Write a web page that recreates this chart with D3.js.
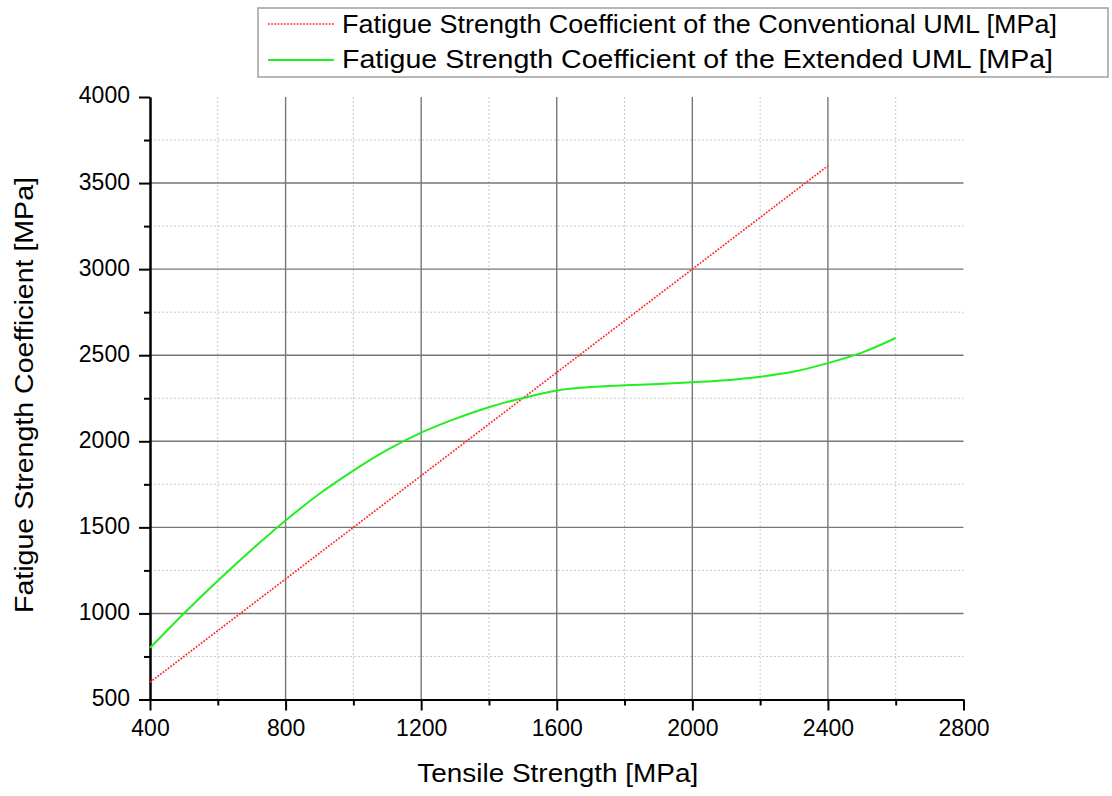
<!DOCTYPE html>
<html>
<head>
<meta charset="utf-8">
<script src="https://cdn.jsdelivr.net/npm/d3@7"></script>
<style>
  html, body { margin: 0; padding: 0; background: #fff; }
  svg { display: block; font-family: "Liberation Sans", Arial, sans-serif; }
</style>
</head>
<body>
<svg id="chart" width="1112" height="796"></svg>
<script>
// Tensile strength samples [MPa]
const tensileConventional = [400, 600, 800, 1000, 1200, 1400, 1600, 1800, 2000, 2200, 2400];
// Conventional UML: fatigue strength coefficient = 1.5 * UTS
const coefConventional = [600, 900, 1200, 1500, 1800, 2100, 2400, 2700, 3000, 3300, 3600];

const tensileExtended = [400, 500, 600, 700, 800, 900, 1000, 1100, 1200, 1300, 1400, 1500,
                         1600, 1700, 1800, 1900, 2000, 2100, 2200, 2300, 2400, 2500, 2600];
const coefExtended = [800, 1000, 1190, 1370, 1540, 1695, 1830, 1950, 2050, 2130, 2198, 2251,
                      2295, 2315, 2325, 2333, 2343, 2355, 2375, 2405, 2454, 2515, 2600];

const xMajorTicks = [400, 800, 1200, 1600, 2000, 2400, 2800];
const xMinorTicks = [600, 1000, 1400, 1800, 2200, 2600];
const yMajorTicks = [500, 1000, 1500, 2000, 2500, 3000, 3500, 4000];
const yMinorTicks = [750, 1250, 1750, 2250, 2750, 3250, 3750];

const seriesNames = [
  "Fatigue Strength Coefficient of the Conventional UML [MPa]",
  "Fatigue Strength Coefficient of the Extended UML [MPa]"
];
const xTitle = "Tensile Strength [MPa]";
const yTitle = "Fatigue Strength Coefficient [MPa]";

const svg = d3.select("#chart");
const plotL = 150, plotR = 963.5, plotT = 97, plotB = 699.5;

const x = d3.scaleLinear().domain([400, 2800]).range([plotL, plotR]);
const y = d3.scaleLinear().domain([500, 4000]).range([plotB, plotT]);
const fmt = d3.format("d");

// Grid: minor dotted, major solid
const grid = svg.append("g");
grid.selectAll(".vminor").data(xMinorTicks).join("line")
  .attr("x1", d => x(d)).attr("x2", d => x(d)).attr("y1", plotT).attr("y2", plotB)
  .attr("stroke", "#c8c8c8").attr("stroke-width", 1).attr("stroke-dasharray", "2,2");
grid.selectAll(".hminor").data(yMinorTicks).join("line")
  .attr("x1", plotL).attr("x2", plotR).attr("y1", d => y(d)).attr("y2", d => y(d))
  .attr("stroke", "#c8c8c8").attr("stroke-width", 1).attr("stroke-dasharray", "2,2");
grid.selectAll(".vmajor").data(xMajorTicks.slice(1, -1)).join("line")
  .attr("x1", d => x(d)).attr("x2", d => x(d)).attr("y1", plotT).attr("y2", plotB)
  .attr("stroke", "#777").attr("stroke-width", 1.4);
grid.selectAll(".hmajor").data(yMajorTicks.slice(1, -1)).join("line")
  .attr("x1", plotL).attr("x2", plotR).attr("y1", d => y(d)).attr("y2", d => y(d))
  .attr("stroke", "#777").attr("stroke-width", 1.4);

// Axes
const xAxis = svg.append("g").attr("transform", `translate(0,${plotB})`)
  .call(d3.axisBottom(x).tickValues(xMajorTicks).tickFormat(fmt)
    .tickSize(11).tickPadding(9).tickSizeOuter(0));
const xAxisMinor = svg.append("g").attr("transform", `translate(0,${plotB})`)
  .call(d3.axisBottom(x).tickValues(xMinorTicks).tickSize(6).tickFormat("").tickSizeOuter(0));
const yAxis = svg.append("g").attr("transform", `translate(${plotL},0)`)
  .call(d3.axisLeft(y).tickValues(yMajorTicks).tickFormat(fmt)
    .tickSize(11).tickPadding(9).tickSizeOuter(0));
const yAxisMinor = svg.append("g").attr("transform", `translate(${plotL},0)`)
  .call(d3.axisLeft(y).tickValues(yMinorTicks).tickSize(6).tickFormat("").tickSizeOuter(0));

[xAxis, xAxisMinor, yAxis, yAxisMinor].forEach(g => {
  g.select(".domain").attr("stroke", "#000").attr("stroke-width", 2);
  g.selectAll(".tick line").attr("stroke", "#000").attr("stroke-width", 2);
  g.selectAll(".tick text").attr("fill", "#000").attr("font-size", 23)
    .attr("font-family", "'Liberation Sans', Arial, sans-serif");
});
yAxis.selectAll(".tick text").attr("dy", "0.26em");

// Series
const lineGen = d3.line().x(d => x(d[0])).y(d => y(d[1]));
svg.append("path")
  .datum(tensileConventional.map((t, i) => [t, coefConventional[i]]))
  .attr("d", lineGen)
  .attr("fill", "none").attr("stroke", "#ff2a2a").attr("stroke-width", 1.7)
  .attr("stroke-dasharray", "1.8,1.4");
svg.append("path")
  .datum(tensileExtended.map((t, i) => [t, coefExtended[i]]))
  .attr("d", lineGen.curve(d3.curveMonotoneX))
  .attr("fill", "none").attr("stroke", "#22ee22").attr("stroke-width", 2);

// Axis titles
svg.append("text")
  .attr("x", x(1600) + 1).attr("y", 782)
  .attr("text-anchor", "middle").attr("font-size", 25).attr("fill", "#000")
  .attr("textLength", 281).attr("lengthAdjust", "spacingAndGlyphs")
  .text(xTitle);
svg.append("text")
  .attr("transform", "translate(33,395) rotate(-90)")
  .attr("text-anchor", "middle").attr("font-size", 25).attr("fill", "#000")
  .attr("textLength", 436).attr("lengthAdjust", "spacingAndGlyphs")
  .text(yTitle);

// Legend
const legend = svg.append("g");
legend.append("rect")
  .attr("x", 258).attr("y", 8).attr("width", 850).attr("height", 69)
  .attr("fill", "#fff").attr("stroke", "#a0a0a0").attr("stroke-width", 1.5);
const legendRows = [
  { name: seriesNames[0], color: "#ff2a2a", dash: "1.8,1.4", sy: 24, ty: 33, len: 715 },
  { name: seriesNames[1], color: "#22ee22", dash: null, sy: 60, ty: 68, len: 711 }
];
legendRows.forEach(r => {
  legend.append("line")
    .attr("x1", 268).attr("x2", 334).attr("y1", r.sy).attr("y2", r.sy)
    .attr("stroke", r.color).attr("stroke-width", r.dash ? 1.7 : 2)
    .attr("stroke-dasharray", r.dash);
  legend.append("text")
    .attr("x", 342).attr("y", r.ty).attr("font-size", 25).attr("fill", "#000")
    .attr("textLength", r.len).attr("lengthAdjust", "spacingAndGlyphs")
    .text(r.name);
});
</script>
</body>
</html>
